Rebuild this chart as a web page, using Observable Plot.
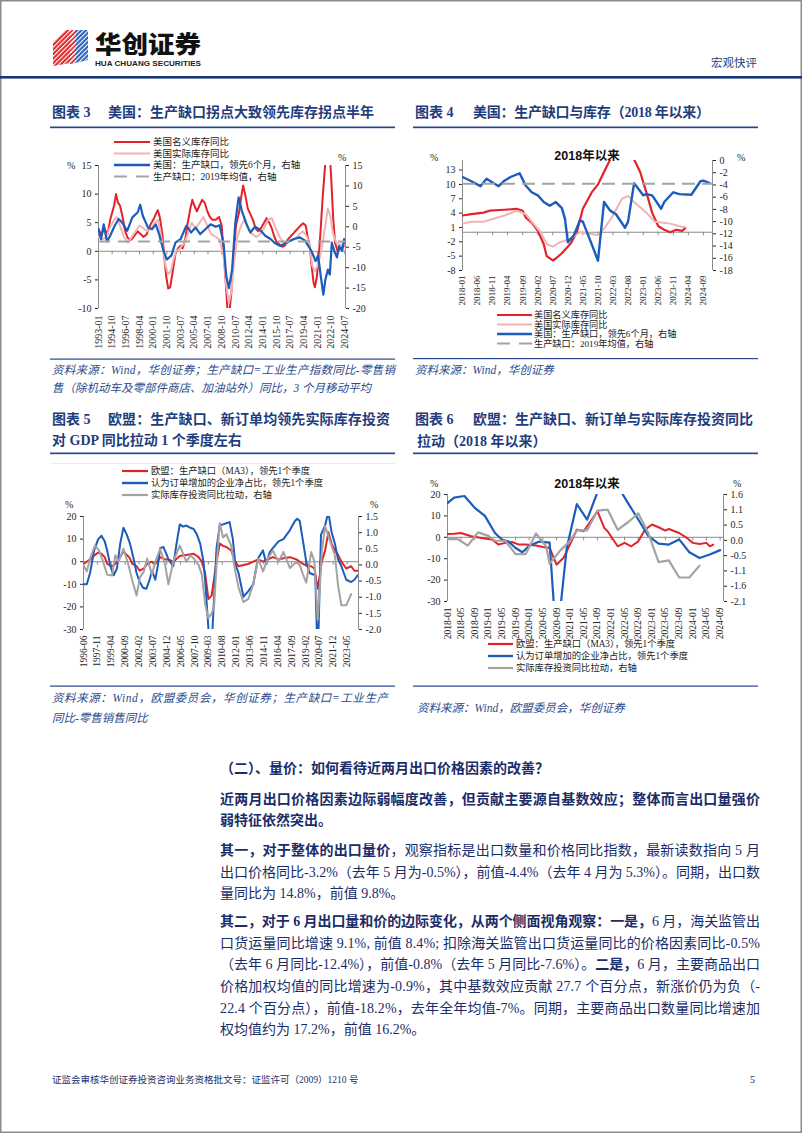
<!DOCTYPE html>
<html><head><meta charset="utf-8">
<script src="https://cdn.jsdelivr.net/npm/d3@7"></script>
<script src="https://cdn.jsdelivr.net/npm/@observablehq/plot@0.6"></script>
<style>
html,body{margin:0;padding:0;background:#fff;}
#page{position:relative;width:802px;height:1133px;overflow:hidden;background:#fff;}
.chart{position:absolute;z-index:1;}
.chart svg{overflow:visible;}
#deco{position:absolute;left:0;top:0;z-index:2;pointer-events:none;}
</style></head>
<body><div id="page"></div>
<script>
// ---------------- DATA ----------------
// Chart 3: US, 1993 onward (left axis: inventories YoY %, right axis: production gap %)
const usNominalInv = [["1993-01",3.7],["1993-06",3.0],["1993-10",4.0],["1994-03",3.0],["1994-07",5.5],["1995-01",8.0],["1995-04",10.0],["1995-07",8.5],["1995-10",8.0],["1996-02",6.0],["1996-06",3.5],["1996-10",2.3],["1997-03",2.0],["1997-08",2.7],["1998-01",3.5],["1998-06",3.0],["1998-10",2.5],["1999-03",3.0],["1999-08",4.5],["2000-01",5.5],["2000-05",6.5],["2000-08",7.2],["2000-11",6.0],["2001-03",3.0],["2001-06",-1.0],["2001-09",-4.5],["2001-12",-6.5],["2002-03",-6.3],["2002-07",-3.5],["2002-11",-0.5],["2003-03",0.5],["2003-07",1.0],["2003-10",0.5],["2004-02",2.0],["2004-06",5.0],["2004-10",7.5],["2005-01",9.0],["2005-04",8.0],["2005-08",7.0],["2005-12",8.0],["2006-04",9.0],["2006-08",8.5],["2006-12",7.0],["2007-04",6.0],["2007-08",5.5],["2008-01",5.5],["2008-06",6.0],["2008-10",4.5],["2009-01",0.0],["2009-04",-5.0],["2009-07",-10.3],["2009-10",-10.5],["2010-01",-7.0],["2010-04",-1.0],["2010-08",4.5],["2011-01",7.0],["2011-04",9.5],["2011-07",11.5],["2011-10",10.0],["2012-02",7.5],["2012-06",6.5],["2012-10",5.5],["2013-02",4.0],["2013-06",3.5],["2013-10",4.0],["2014-03",5.0],["2014-07",5.8],["2014-11",5.0],["2015-03",4.0],["2015-07",2.5],["2015-11",1.5],["2016-03",1.2],["2016-07",0.8],["2016-11",1.0],["2017-03",2.0],["2017-07",2.5],["2017-11",3.0],["2018-03",3.5],["2018-07",4.0],["2018-11",4.5],["2019-03",4.9],["2019-07",4.5],["2019-10",2.5],["2020-01",1.0],["2020-04",-2.5],["2020-07",-5.5],["2020-09",-6.3],["2020-12",-4.5],["2021-03",-1.0],["2021-06",4.0],["2021-09",9.5],["2021-12",14.0],["2022-03",18.0],["2022-07",19.0],["2022-10",13.0],["2023-01",6.0],["2023-04",1.5],["2023-08",0.0],["2023-12",0.5],["2024-04",0.8],["2024-07",1.0]];
const usRealInv = [["1993-01",2.5],["1993-06",2.0],["1994-01",2.5],["1994-06",4.0],["1995-01",5.5],["1995-05",6.0],["1995-10",4.5],["1996-04",2.5],["1996-10",1.5],["1997-04",2.5],["1997-10",3.5],["1998-04",4.5],["1998-10",4.0],["1999-04",3.5],["1999-10",4.0],["2000-04",5.0],["2000-08",5.5],["2000-12",3.5],["2001-04",0.5],["2001-08",-2.5],["2001-12",-4.0],["2002-04",-3.5],["2002-08",-1.5],["2002-12",0.0],["2003-06",0.5],["2004-01",1.5],["2004-06",3.0],["2004-12",5.0],["2005-06",4.0],["2005-12",5.0],["2006-06",6.0],["2006-12",4.5],["2007-06",3.0],["2008-01",2.5],["2008-07",2.0],["2009-01",-1.0],["2009-05",-6.0],["2009-09",-9.0],["2010-01",-7.0],["2010-05",-2.0],["2010-10",2.5],["2011-04",4.5],["2011-09",5.5],["2012-03",4.0],["2012-09",3.0],["2013-03",2.5],["2013-09",3.0],["2014-03",4.0],["2014-09",5.5],["2015-03",5.8],["2015-09",4.0],["2016-03",2.5],["2016-09",1.5],["2017-03",1.5],["2017-09",2.0],["2018-03",2.2],["2018-09",3.0],["2019-03",3.5],["2019-09",2.5],["2020-01",1.0],["2020-05",-2.5],["2020-09",-3.5],["2021-01",-2.5],["2021-05",-1.0],["2021-09",1.5],["2022-01",4.5],["2022-05",7.5],["2022-09",6.0],["2023-01",3.0],["2023-06",1.5],["2023-12",1.2],["2024-07",1.0]];
const usGapLead6 = [["1993-01",-0.5],["1993-05",-3.0],["1993-09",0.6],["1994-02",-3.6],["1994-07",-2.2],["1995-02",0.3],["1995-08",1.9],["1996-01",1.1],["1996-09",-1.0],["1997-05",2.3],["1998-01",3.5],["1998-05",5.4],["1998-09",2.7],["1999-05",-0.2],["1999-11",-0.6],["2000-05",0.6],["2000-10",-1.8],["2001-05",-6.0],["2001-10",-8.0],["2002-05",-7.0],["2002-11",-3.9],["2003-07",-3.0],["2004-04",0.3],["2004-11",-1.4],["2005-06",-0.2],["2006-01",-1.8],["2006-09",-0.6],["2007-05",0.6],["2008-01",0.0],["2008-07",0.4],["2009-01",-4.3],["2009-05",-12.0],["2009-09",-15.0],["2010-02",-10.5],["2010-07",1.0],["2010-12",7.2],["2011-05",3.9],["2012-01",0.3],["2012-06",-1.4],["2013-01",0.0],["2013-08",-0.6],["2014-05",-2.2],["2015-01",-3.0],["2015-07",-3.9],["2016-04",-4.7],["2017-01",-3.9],["2018-01",-3.0],["2018-10",-2.6],["2019-06",-3.4],["2019-11",-4.7],["2020-04",-6.0],["2020-10",-8.4],["2021-02",-7.0],["2021-06",-12.0],["2021-10",-16.6],["2022-01",-13.0],["2022-05",-10.5],["2022-08",-11.7],["2022-11",-3.9],["2023-03",-6.0],["2023-07",-7.5],["2023-10",-4.7],["2024-03",-5.8],["2024-06",-3.0],["2024-08",-3.9]];
const usGap2019Mean = -3.6;

// Chart 4: US since 2018
const usNominalInv18 = [["2018-01",3.5],["2018-04",3.8],["2018-08",4.1],["2018-10",4.5],["2019-03",4.7],["2019-07",4.9],["2019-09",4.5],["2019-10",3.1],["2019-12",2.0],["2020-02",0.3],["2020-04",-2.5],["2020-05",-5.0],["2020-07",-5.9],["2020-08",-5.5],["2020-10",-4.4],["2021-01",-2.3],["2021-03",0.0],["2021-05",4.9],["2021-08",8.4],["2021-10",10.0],["2021-12",12.6],["2022-02",15.2],["2022-04",19.0],["2022-07",19.0],["2022-10",15.2],["2022-12",12.6],["2023-02",8.4],["2023-04",4.1],["2023-06",1.3],["2023-08",0.5],["2023-10",0.0],["2023-12",0.5],["2024-02",0.3],["2024-03",0.9]];
const usRealInv18 = [["2018-01",1.8],["2018-04",2.2],["2018-08",2.2],["2019-03",3.5],["2019-07",4.5],["2019-10",3.8],["2019-12",2.2],["2020-03",0.0],["2020-05",-2.5],["2020-07",-3.0],["2020-09",-2.2],["2021-01",-1.3],["2021-04",0.0],["2021-07",-0.3],["2021-10",-0.6],["2021-12",0.7],["2022-03",3.5],["2022-06",7.0],["2022-08",7.6],["2022-10",6.3],["2023-02",4.1],["2023-05",2.2],["2023-10",1.8],["2024-02",1.1],["2024-03",1.1]];
const usGapLead6_18 = [["2018-01",-2.7],["2018-04",-3.4],["2018-07",-4.2],["2018-09",-3.0],["2019-01",-4.2],["2019-03",-3.3],["2019-05",-2.7],["2019-08",-2.1],["2019-10",-4.1],["2019-12",-5.2],["2020-02",-5.7],["2020-04",-6.8],["2020-06",-7.4],["2020-08",-6.8],["2020-10",-7.8],["2020-11",-9.5],["2020-12",-13.4],["2021-02",-12.2],["2021-04",-9.8],["2021-05",-10.0],["2021-08",-13.8],["2021-10",-16.4],["2021-12",-6.8],["2022-02",-8.2],["2022-04",-8.8],["2022-07",-11.0],["2022-08",-10.0],["2022-10",-3.7],["2023-01",-5.7],["2023-02",-5.5],["2023-04",-5.7],["2023-07",-7.9],["2023-08",-6.8],["2023-11",-5.2],["2024-01",-5.5],["2024-05",-5.6],["2024-08",-3.4],["2024-09",-3.3],["2024-11",-3.7]];
const usGap2019Mean18 = -3.8;

// Chart 5: EU, 1996 onward (left: %, right: contribution pct points)
const euGapMA3 = [["1996-06",-1],["1996-10",0],["1997-02",1],["1997-08",3],["1997-12",4],["1998-04",3.5],["1998-08",2],["1998-11",-1],["1999-05",-2],["1999-09",-1],["2000-01",1],["2000-07",4.5],["2000-11",3],["2001-02",2],["2001-06",-1],["2001-11",-2],["2002-03",-4],["2002-08",-3],["2002-12",-1],["2003-06",0],["2003-10",-1],["2004-04",2],["2004-10",1],["2005-02",1],["2005-08",0],["2006-04",2.5],["2006-12",3],["2007-09",3.5],["2008-03",2],["2008-07",0],["2008-11",-5],["2009-03",-16.5],["2009-07",-15],["2009-11",-5],["2010-01",0],["2010-05",8],["2010-09",7],["2011-01",6.5],["2011-07",5],["2011-12",0],["2012-04",-2],["2012-10",-1.5],["2013-04",-1],["2013-10",0],["2014-04",1],["2014-10",0],["2015-04",1],["2015-10",2],["2016-05",1],["2016-11",1.5],["2017-07",2],["2018-03",1],["2018-07",0],["2018-11",-1],["2019-05",-2],["2019-09",-2],["2020-01",-3],["2020-05",-12],["2020-08",-5],["2020-10",0],["2021-02",5],["2021-06",13],["2021-10",8],["2022-02",5],["2022-06",3],["2022-10",0],["2023-04",-3],["2023-10",-2],["2024-02",-4],["2024-06",-4]];
const euOrdersNet = [["1996-06",-10],["1996-10",-10],["1997-02",-5],["1997-07",5],["1997-12",10],["1998-04",11.5],["1998-08",9],["1998-11",5],["1999-03",-2],["1999-07",-6],["1999-11",-3],["2000-03",8],["2000-07",15],["2000-11",12],["2001-03",8],["2001-07",2],["2001-11",-5],["2002-03",-9],["2002-07",-11.5],["2002-11",-12],["2003-03",-8],["2003-06",-4],["2003-10",-8],["2004-01",-2],["2004-04",6],["2004-08",6.5],["2004-12",3],["2005-02",1],["2005-08",-2],["2005-12",8],["2006-04",16.5],["2006-08",15.5],["2006-12",16],["2007-05",15],["2007-09",14.5],["2008-01",12],["2008-05",8],["2008-09",0],["2008-11",-8],["2009-06",-45],["2010-01",6],["2010-05",16],["2010-09",16.5],["2011-01",17],["2011-05",17.5],["2011-09",10],["2011-12",-1],["2012-04",-5],["2012-10",-15.5],["2013-04",-13],["2013-10",-10],["2014-01",-4],["2014-04",1.5],["2014-10",5],["2015-02",-1],["2015-06",4],["2015-10",6],["2016-05",9],["2016-11",10],["2017-07",14],["2018-01",18],["2018-04",19],["2018-07",18],["2018-11",9],["2019-03",0],["2019-07",-5],["2020-02",-6],["2020-05",-45],["2020-09",12],["2021-02",16],["2021-06",22],["2021-10",13],["2022-02",8],["2022-06",1],["2022-10",-2],["2023-04",-8],["2023-10",-9],["2024-02",-8],["2024-06",-6]];
const euInvContrib = [["1996-06",0],["1996-10",-0.2],["1997-02",0.2],["1997-08",0.6],["1998-01",0.45],["1998-06",0.1],["1998-11",-0.3],["1999-05",-0.33],["1999-09",0.3],["2000-01",0.1],["2000-07",0.5],["2001-01",0],["2001-06",-0.5],["2001-11",-0.95],["2002-03",-0.4],["2002-08",-0.2],["2002-12",0.2],["2003-06",-0.3],["2003-10",0.1],["2004-04",0.5],["2004-10",0],["2005-02",-0.6],["2005-08",0.1],["2006-04",0.6],["2006-12",0.1],["2007-05",0.3],["2007-09",0.2],["2008-03",0],["2008-07",-0.3],["2008-11",-1.2],["2009-03",-1.65],["2009-07",-1.5],["2009-10",-1.3],["2010-01",0],["2010-05",1.3],["2010-09",0.85],["2011-01",0.95],["2011-07",0.6],["2011-12",-0.2],["2012-04",-0.7],["2012-10",-1.15],["2013-04",-1.05],["2013-10",-0.6],["2014-04",0.2],["2014-10",-0.2],["2015-04",0.2],["2015-10",0.45],["2016-05",0.1],["2016-11",0.4],["2017-07",-0.1],["2018-03",0.1],["2018-07",0],["2018-11",-0.3],["2019-03",-0.55],["2019-09",0.4],["2020-01",0.1],["2020-05",-1.7],["2020-08",-0.5],["2020-10",0.4],["2021-02",1.2],["2021-06",0.9],["2021-10",0.6],["2022-02",0.3],["2022-06",-0.65],["2022-10",-1.25],["2023-04",-1.25],["2023-10",-0.9]];

// Chart 6: EU since 2018
const euGapMA3_18 = [["2018-01",1.6],["2018-03",1.7],["2018-05",2.0],["2018-08",0.5],["2018-11",-0.3],["2019-02",-1.0],["2019-04",-3.4],["2019-06",-2.6],["2019-08",-2.2],["2019-10",-3.4],["2019-12",-3.4],["2020-03",-3.8],["2020-05",-4.5],["2020-07",-5.0],["2020-09",-12.8],["2020-11",-9.7],["2020-12",-6.6],["2021-03",3.6],["2021-05",2.8],["2021-09",12.2],["2021-11",4.4],["2021-12",2.8],["2022-03",-4.2],["2022-05",-2.6],["2022-07",-4.2],["2022-09",-1.9],["2022-11",3.6],["2023-01",6.0],["2023-03",4.7],["2023-05",3.1],["2023-06",3.9],["2023-09",2.0],["2023-11",0.0],["2024-01",-2.6],["2024-03",-3.1],["2024-05",-2.6],["2024-06",-4.2],["2024-07",-3.4]];
const euOrdersNet_18 = [["2018-01",16],["2018-03",18.5],["2018-06",19.3],["2018-09",13.8],["2018-12",10],["2019-03",2],["2019-05",-1],["2019-07",-2],["2019-09",-5],["2019-11",-7],["2020-01",-4],["2020-04",-2],["2020-07",-2.5],["2020-09",-50],["2020-12",-5],["2021-03",15.5],["2021-06",8.3],["2021-09",21],["2021-12",30],["2022-03",24],["2022-06",16],["2022-09",8.3],["2022-12",0.5],["2023-03",-3],["2023-06",-3.4],["2023-09",-1],["2023-12",-7],["2024-03",-9.7],["2024-06",-8],["2024-09",-6]];
const euInvContrib_18 = [["2018-01",0.06],["2018-04",0.06],["2018-07",-0.17],["2018-10",0.29],["2019-01",0.17],["2019-03",0],["2019-06",0],["2019-09",-0.46],["2019-12",-0.46],["2020-03",0.25],["2020-06",-0.2],["2020-07",-0.8],["2020-10",-0.35],["2021-01",0],["2021-03",0.36],["2021-06",0.36],["2021-09",1.04],["2021-12",1.08],["2022-03",0.38],["2022-06",0.64],["2022-09",0.95],["2022-12",0.25],["2023-03",-0.74],["2023-06",-0.68],["2023-09",-1.27],["2023-12",-1.27],["2024-03",-0.86]];

// Tick labels
const c3XTicks = ["1993-01","1994-10","1996-07","1998-04","2000-01","2001-10","2003-07","2005-04","2007-01","2008-10","2010-07","2012-04","2014-01","2015-10","2017-07","2019-04","2021-01","2022-10","2024-07"];
const c3YTicks = [-10,-5,0,5,10,15];
const c3RTicks = [-20,-15,-10,-5,0,5,10,15];
const c3RLabels = ["-20","-15","-10","-5","0","5","10","15"];
const c4XTicks = ["2018-01","2018-06","2018-11","2019-04","2019-09","2020-02","2020-07","2020-12","2021-05","2021-10","2022-03","2022-08","2023-01","2023-06","2023-11","2024-04","2024-09"];
const c4YTicks = [-8,-5,-2,1,4,7,10,13];
const c4RTicks = [-18,-16,-14,-12,-10,-8,-6,-4,-2,0];
const c4RLabels = ["-18","-16","-14","-12","-10","-8","-6","-4","-2","0"];
const c5XTicks = ["1996-06","1997-11","1999-04","2000-09","2002-02","2003-07","2004-12","2006-05","2007-10","2009-03","2010-08","2012-01","2013-06","2014-11","2016-04","2017-09","2019-02","2020-07","2021-12","2023-05"];
const c5YTicks = [-30,-20,-10,0,10,20];
const c5RTicks = [-2,-1.5,-1,-0.5,0,0.5,1,1.5];
const c5RLabels = ["-2.0","-1.5","-1.0","-0.5","0.0","0.5","1.0","1.5"];
const c6XTicks = ["2018-01","2018-05","2018-09","2019-01","2019-05","2019-09","2020-01","2020-05","2020-09","2021-01","2021-05","2021-09","2022-01","2022-05","2022-09","2023-01","2023-05","2023-09","2024-01","2024-05","2024-09"];
const c6YTicks = [-30,-20,-10,0,10,20];
const c6RTicks = [-2.1,-1.5714,-1.0429,-0.5143,0.0143,0.5429,1.0714,1.6];
const c6RLabels = ["-2.1","-1.6","-1.1","-0.5","0.0","0.5","1.1","1.6"];

const usLegend = ["美国名义库存同比","美国实际库存同比","美国：生产缺口，领先6个月，右轴","生产缺口：2019年均值，右轴"];
const euLegend = ["欧盟：生产缺口（MA3），领先1个季度","认为订单增加的企业净占比，领先1个季度","实际库存投资同比拉动，右轴"];

// ---------------- STYLE ----------------
const RED = "#e3232b", PINK = "#f2b3b4", BLUE = "#1c5cba", GREY = "#a3a3a3", AXIS = "#8c8c8c";
const NAVY = "#1f3d7c", TXT = "#1b2d69";
const SERIF = "'Liberation Serif','Noto Sans CJK SC',serif";
const CJK = "'Noto Sans CJK SC',sans-serif";

const parse = d3.utcParse("%Y-%m");
const page = document.getElementById("page");

function chart(cfg) {
  const toLeft = d3.scaleLinear().domain(cfg.rDomain).range(cfg.yDomain);
  const rPos = cfg.rTicks.map(toLeft);
  const rMap = new Map(rPos.map((p, i) => [p, cfg.rLabels[i]]));
  const innerH = cfg.height - cfg.mT - cfg.mB;
  const tl = (cfg.yDomain[1] - cfg.yDomain[0]) / innerH * 3.5;
  const xTicks = cfg.xTicks.map(parse);
  const xDom = cfg.xDomain.map(parse);
  const marks = [
    Plot.ruleX(xDom, {stroke: AXIS, strokeWidth: 1}),
    Plot.ruleY([0], {stroke: AXIS, strokeWidth: 1}),
    Plot.ruleX(xTicks, {x: d => d, y1: 0, y2: -tl, stroke: AXIS})
  ];
  for (const s of cfg.series) {
    if (s.constant !== undefined) {
      marks.push(Plot.ruleY([s.constant], {y: d => s.right ? toLeft(d) : d, stroke: s.color, strokeWidth: s.w, strokeDasharray: s.dash}));
    } else {
      const rows = s.data.map(([d, v]) => ({date: parse(d), v: s.right ? toLeft(v) : v}));
      marks.push(Plot.line(rows, {x: "date", y: "v", stroke: s.color, strokeWidth: s.w, clip: true, strokeLinejoin: "round"}));
    }
  }
  marks.push(Plot.axisY({ticks: cfg.yTicks, anchor: "left", tickSize: 3, tickPadding: 4, label: null, tickFormat: d => String(d), fontSize: cfg.yFont}));
  marks.push(Plot.axisY({ticks: rPos, anchor: "right", tickSize: 3, tickPadding: 4, label: null, tickFormat: d => rMap.get(d), fontSize: cfg.yFont}));
  marks.push(Plot.axisX({ticks: xTicks, anchor: "bottom", tickSize: 0, tickPadding: cfg.xPad, tickRotate: -90, label: null, tickFormat: d3.utcFormat("%Y-%m"), fontSize: cfg.xFont}));
  const p = Plot.plot({
    width: cfg.width, height: cfg.height,
    marginLeft: cfg.mL, marginRight: cfg.mR, marginTop: cfg.mT, marginBottom: cfg.mB,
    x: {type: "utc", domain: xDom},
    y: {domain: cfg.yDomain},
    style: {fontFamily: "'Liberation Serif',serif", fontSize: "10px", color: "#262626", background: "none", overflow: "visible"},
    marks
  });
  const div = document.createElement("div");
  div.className = "chart";
  div.style.left = cfg.left + "px";
  div.style.top = cfg.top + "px";
  div.appendChild(p);
  page.appendChild(div);
}

chart({left: 40, top: 130, width: 360, height: 232, mL: 58, mR: 55, mT: 35, mB: 54,
  xDomain: ["1993-01", "2024-08"], yDomain: [-10, 15], rDomain: [-20, 15],
  yTicks: c3YTicks, rTicks: c3RTicks, rLabels: c3RLabels, xTicks: c3XTicks, xPad: 7, xFont: 10, yFont: 10,
  series: [
    {data: usNominalInv, color: RED, w: 2},
    {data: usRealInv, color: PINK, w: 2},
    {data: usGapLead6, color: BLUE, w: 2.2, right: true},
    {constant: usGap2019Mean, color: GREY, w: 1.8, dash: "12,8", right: true}
  ]});

chart({left: 405, top: 140, width: 380, height: 175, mL: 57, mR: 73, mT: 20, mB: 45,
  xDomain: ["2018-01", "2024-12"], yDomain: [-8, 15], rDomain: [-18, 0],
  yTicks: c4YTicks, rTicks: c4RTicks, rLabels: c4RLabels, xTicks: c4XTicks, xPad: 5, xFont: 9, yFont: 10,
  series: [
    {data: usNominalInv18, color: RED, w: 2.2},
    {data: usRealInv18, color: PINK, w: 2},
    {data: usGapLead6_18, color: BLUE, w: 2.4, right: true},
    {constant: usGap2019Mean18, color: GREY, w: 2, dash: "13,7", right: true}
  ]});

chart({left: 40, top: 500, width: 360, height: 175, mL: 43, mR: 42, mT: 16, mB: 46,
  xDomain: ["1996-06", "2024-07"], yDomain: [-30, 20], rDomain: [-2, 1.5],
  yTicks: c5YTicks, rTicks: c5RTicks, rLabels: c5RLabels, xTicks: c5XTicks, xPad: 6, xFont: 9.5, yFont: 10,
  series: [
    {data: euGapMA3, color: RED, w: 2},
    {data: euOrdersNet, color: BLUE, w: 2},
    {data: euInvContrib, color: GREY, w: 2, right: true}
  ]});

chart({left: 405, top: 480, width: 380, height: 165, mL: 42, mR: 62, mT: 14, mB: 44,
  xDomain: ["2018-01", "2024-10"], yDomain: [-30, 20], rDomain: [-2.1, 1.6],
  yTicks: c6YTicks, rTicks: c6RTicks, rLabels: c6RLabels, xTicks: c6XTicks, xPad: 6, xFont: 9.5, yFont: 10,
  series: [
    {data: euGapMA3_18, color: RED, w: 2},
    {data: euOrdersNet_18, color: BLUE, w: 2.2},
    {data: euInvContrib_18, color: GREY, w: 2.2, right: true}
  ]});

// ---------------- DECORATION / TEXT ----------------
const svg = d3.select(page).append("svg").attr("id", "deco").attr("width", 802).attr("height", 1133);
const defs = svg.append("defs");
const pat = defs.append("pattern").attr("id", "hatch").attr("width", 3.2).attr("height", 3.2)
  .attr("patternUnits", "userSpaceOnUse").attr("patternTransform", "rotate(45)");
pat.append("rect").attr("width", 1.1).attr("height", 3.2).attr("fill", "#fff");

svg.append("rect").attr("x", 0.75).attr("y", 0.75).attr("width", 800.5).attr("height", 1131.5)
  .attr("fill", "none").attr("stroke", "#8a8a8a").attr("stroke-width", 1.5);

// logo
svg.append("polygon").attr("points", "70,30 88,30 88,60 70,64").attr("fill", "#2a63b8");
svg.append("polygon").attr("points", "53,43 66,30 76,30 76,62 53,66").attr("fill", "#e12a2e");
svg.append("polygon").attr("points", "70,30 88,30 88,60 70,64").attr("fill", "url(#hatch)");
svg.append("polygon").attr("points", "53,43 66,30 76,30 76,62 53,66").attr("fill", "url(#hatch)");

function T(x, y, s, o = {}) {
  const t = svg.append("text").attr("x", x).attr("y", y).text(s)
    .attr("font-family", o.family || SERIF).attr("font-size", o.size || 12)
    .attr("fill", o.fill || "#222");
  if (o.weight) t.attr("font-weight", o.weight);
  if (o.italic) t.attr("font-style", "italic");
  if (o.anchor) t.attr("text-anchor", o.anchor);
  if (o.len) t.attr("textLength", o.len).attr("lengthAdjust", o.adjust || "spacing");
  return t;
}
function R(x1, x2, y, h, color) {
  svg.append("rect").attr("x", x1).attr("y", y).attr("width", x2 - x1).attr("height", h).attr("fill", color);
}

T(95, 52.5, "华创证券", {family: CJK, size: 24, weight: 900, fill: "#111", len: 106, adjust: "spacingAndGlyphs"});
T(95, 66, "HUA CHUANG SECURITIES", {family: "'Liberation Sans',sans-serif", size: 7.2, weight: 700, fill: "#222", len: 106, adjust: "spacingAndGlyphs"});
T(711, 67, "宏观快评", {family: CJK, size: 11.5, fill: NAVY});
R(0, 802, 76, 2.6, "#17387a");

// chart titles
const titleOpt = {size: 14, weight: 700, fill: NAVY};
T(52, 117, "图表 3", titleOpt);
T(108, 117, "美国：生产缺口拐点大致领先库存拐点半年", {...titleOpt, len: 266});
T(415, 117, "图表 4", titleOpt);
T(473, 117, "美国：生产缺口与库存（2018 年以来）", {...titleOpt, len: 237});
T(52, 424, "图表 5", titleOpt);
T(108, 424, "欧盟：生产缺口、新订单均领先实际库存投资", {...titleOpt, len: 282});
T(52, 445, "对 GDP 同比拉动 1 个季度左右", titleOpt);
T(415, 424, "图表 6", titleOpt);
T(473, 424, "欧盟：生产缺口、新订单与实际库存投资同比", {...titleOpt, len: 280});
T(417, 446, "拉动（2018 年以来）", titleOpt);
const UL = "#27478b";
R(50, 395, 126.5, 1.7, UL); R(413, 758, 126.5, 1.7, UL);
R(50, 395, 452.5, 1.7, UL); R(413, 758, 452.5, 1.7, UL);
R(50, 395, 358.5, 1.2, UL); R(413, 758, 358, 1.2, UL);
R(50, 395, 685.5, 1.2, UL); R(413, 758, 685.5, 1.2, UL);
R(50, 395, 463, 1, "#ececec");

// % unit labels and inner titles
const pctOpt = {size: 10, fill: "#262626"};
T(67, 168.5, "%", pctOpt); T(338, 161, "%", pctOpt);
T(430, 160.5, "%", pctOpt); T(737, 160.5, "%", pctOpt);
T(65, 507.5, "%", pctOpt); T(370, 507.5, "%", pctOpt);
T(430, 486.5, "%", pctOpt); T(733, 486.5, "%", pctOpt);
T(587, 159.5, "2018年以来", {family: "'Liberation Sans','Noto Sans CJK SC',sans-serif", size: 12.5, weight: 700, anchor: "middle", fill: "#111"});
T(587, 487.5, "2018年以来", {family: "'Liberation Sans','Noto Sans CJK SC',sans-serif", size: 12.5, weight: 700, anchor: "middle", fill: "#111"});

// legends
function legend(x1, x2, tx, ys, items, size) {
  items.forEach((it, i) => {
    svg.append("line").attr("x1", x1).attr("x2", x2).attr("y1", ys[i]).attr("y2", ys[i])
      .attr("stroke", it.color).attr("stroke-width", it.w).attr("stroke-dasharray", it.dash || null);
    T(tx, ys[i] + size * 0.36, it.label, {size, fill: "#222"});
  });
}
const usItems = [
  {label: usLegend[0], color: RED, w: 2.2},
  {label: usLegend[1], color: PINK, w: 2.2},
  {label: usLegend[2], color: BLUE, w: 2.4},
  {label: usLegend[3], color: GREY, w: 2, dash: "13,9"}
];
const euItems = [
  {label: euLegend[0], color: RED, w: 2.2},
  {label: euLegend[1], color: BLUE, w: 2.4},
  {label: euLegend[2], color: GREY, w: 2.2}
];
legend(114, 150, 153, [142, 153.5, 165, 176.5], usItems, 9.5);
legend(497, 532, 534, [315, 324.5, 334, 343.5], usItems, 9.2);
legend(122, 148, 151, [471, 483, 495], euItems, 9.3);
legend(488, 513, 516, [644, 656, 668], euItems, 9.3);

// sources
const srcOpt = {size: 11.5, italic: true, fill: "#2b4a8c"};
T(52, 374, "资料来源：Wind，华创证券；生产缺口=工业生产指数同比-零售销", {...srcOpt, len: 343});
T(52, 392, "售（除机动车及零部件商店、加油站外）同比，3 个月移动平均", srcOpt);
T(415, 374, "资料来源：Wind，华创证券", srcOpt);
T(52, 702, "资料来源：Wind，欧盟委员会，华创证券；生产缺口=工业生产", {...srcOpt, len: 336});
T(52, 722, "同比-零售销售同比", srcOpt);
T(417, 712, "资料来源：Wind，欧盟委员会，华创证券", srcOpt);

// body text
function line(y, segs, full) {
  const t = svg.append("text").attr("x", 220).attr("y", y).attr("font-family", SERIF)
    .attr("font-size", 14).attr("fill", TXT);
  segs.forEach(([s, b]) => { const ts = t.append("tspan").text(s); if (b) ts.attr("font-weight", 700); });
  if (full) t.attr("textLength", 540).attr("lengthAdjust", "spacing");
}
line(773, [["（二）、量价：如何看待近两月出口价格因素的改善？", true]], false);
line(804, [["近两月出口价格因素边际弱幅度改善，但贡献主要源自基数效应；整体而言出口量强价", true]], true);
line(825, [["弱特征依然突出。", true]], false);
line(855, [["其一，对于整体的出口量价", true], ["，观察指标是出口数量和价格同比指数，最新读数指向 5 月", false]], true);
line(877, [["出口价格同比-3.2%（去年 5 月为-0.5%），前值-4.4%（去年 4 月为 5.3%）。同期，出口数", false]], true);
line(898, [["量同比为 14.8%，前值 9.8%。", false]], false);
line(926, [["其二，对于 6 月出口量和价的边际变化，从两个侧面视角观察：一是，", true], ["6 月，海关监管出", false]], true);
line(948, [["口货运量同比增速 9.1%, 前值 8.4%; 扣除海关监管出口货运量同比的价格因素同比-0.5%", false]], true);
line(969, [["（去年 6 月同比-12.4%），前值-0.8%（去年 5 月同比-7.6%）。", false], ["二是，", true], ["6 月，主要商品出口", false]], true);
line(991, [["价格加权均值的同比增速为-0.9%，其中基数效应贡献 27.7 个百分点，新涨价仍为负（-", false]], true);
line(1013, [["22.4 个百分点），前值-18.2%，去年全年均值-7%。同期，主要商品出口数量同比增速加", false]], true);
line(1034, [["权均值约为 17.2%，前值 16.2%。", false]], false);

// footer
T(52, 1083, "证监会审核华创证券投资咨询业务资格批文号：证监许可（2009）1210 号", {size: 9.5, fill: TXT});
T(750, 1083, "5", {size: 10, fill: TXT});
</script>
</body></html>
